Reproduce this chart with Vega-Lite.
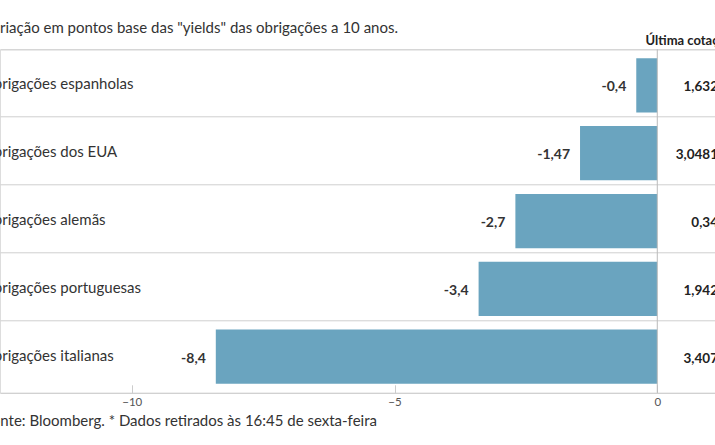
{
  "$schema": "https://vega.github.io/schema/vega-lite/v6.json",
  "width": 715,
  "height": 343.5,
  "autosize": {"type": "none"},
  "padding": {"left": 0, "top": 49.3, "right": 0, "bottom": 52.2},
  "background": "white",
  "title": {
    "text": "Variação em pontos base das \"yields\" das obrigações a 10 anos.",
    "anchor": "start",
    "frame": "group",
    "dx": -16.5,
    "dy": 4,
    "offset": 2,
    "font": "Lato",
    "fontSize": 15,
    "fontWeight": "normal",
    "color": "#333333"
  },
  "data": {
    "values": [
      {"cat": "Obrigações espanholas", "v": -0.4, "lbl": "-0,4", "last": "1,632"},
      {"cat": "Obrigações dos EUA", "v": -1.47, "lbl": "-1,47", "last": "3,0481"},
      {"cat": "Obrigações alemãs", "v": -2.7, "lbl": "-2,7", "last": "0,34"},
      {"cat": "Obrigações portuguesas", "v": -3.4, "lbl": "-3,4", "last": "1,942"},
      {"cat": "Obrigações italianas", "v": -8.4, "lbl": "-8,4", "last": "3,407"}
    ]
  },
  "layer": [
    {
      "mark": {"type": "bar", "color": "#6aa4bf"},
      "encoding": {
        "y": {
          "field": "cat", "type": "nominal", "sort": null,
          "scale": {"paddingInner": 0.2, "paddingOuter": 0.133},
          "axis": {
            "title": "Última cotação",
            "titleAngle": 0, "titleX": 645, "titleY": -9,
            "titleAlign": "left", "titleBaseline": "middle",
            "titleFont": "Lato", "titleFontSize": 13, "titleFontWeight": "bold", "titleColor": "#222222",
            "labelAlign": "left", "labelPadding": 18.5, "labelOffset": -1,
            "labelBaseline": "middle",
            "labelFont": "Lato", "labelFontSize": 15, "labelColor": "#333333",
            "ticks": false, "domain": false,
            "grid": true, "gridColor": "#cfcfcf", "bandPosition": -0.166
          }
        },
        "x": {
          "field": "v", "type": "quantitative",
          "scale": {"domain": [-12.506, 1.098], "nice": false, "zero": false},
          "axis": {
            "values": [-10, -5, 0],
            "grid": false,
            "title": "Fonte: Bloomberg.  * Dados retirados às 16:45 de sexta-feira",
            "titleX": -16.5, "titleY": 28, "titleAlign": "left", "titleBaseline": "middle",
            "titleFont": "Lato", "titleFontSize": 15, "titleFontWeight": "normal", "titleColor": "#333333",
            "labelFont": "Lato", "labelFontSize": 11.5, "labelColor": "#555555",
            "labelPadding": 12,
            "tickSize": -8, "tickColor": "#cccccc", "domainColor": "#cccccc"
          }
        }
      }
    },
    {
      "mark": {"type": "text", "align": "right", "baseline": "middle", "dx": -10, "dy": 2, "font": "Lato", "fontSize": 14, "fontWeight": "bold", "color": "#333333"},
      "encoding": {
        "y": {"field": "cat", "type": "nominal", "sort": null},
        "x": {"field": "v", "type": "quantitative"},
        "text": {"field": "lbl"}
      }
    },
    {
      "mark": {"type": "text", "align": "right", "baseline": "middle", "dy": 2, "font": "Lato", "fontSize": 13.5, "fontWeight": "bold", "color": "#222222"},
      "encoding": {
        "y": {"field": "cat", "type": "nominal", "sort": null},
        "x": {"datum": 1.155},
        "text": {"field": "last"}
      }
    },
    {
      "data": {"values": [{}]},
      "mark": {"type": "rule", "color": "#bbbbbb"},
      "encoding": {"x": {"datum": 0}}
    }
  ]
}
